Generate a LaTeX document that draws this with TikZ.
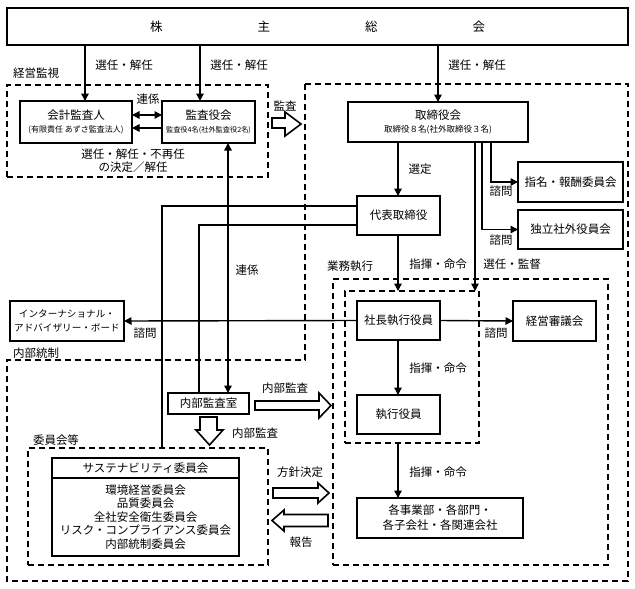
\documentclass[tikz,border=0pt]{standalone}
\usepackage{fontspec}
\setmainfont{Noto Sans CJK JP}
\usetikzlibrary{arrows.meta}
\begin{document}
\begin{tikzpicture}[x=1pt,y=-1pt,
  every node/.style={font=\fontsize{11.5}{13.4}\selectfont},
  box/.style={draw,line width=1.8pt,inner sep=0pt,outer sep=0pt,anchor=north west,align=center},
  dbox/.style={draw,dash pattern=on 6pt off 4pt,line width=1.6pt,inner sep=0pt,outer sep=0pt,anchor=north west},
  dpath/.style={draw,dash pattern=on 6pt off 4pt,line width=1.6pt},
  conn/.style={line width=1.4pt},
  arr/.style={conn,-{Triangle[length=7.5pt,width=7.5pt]}},
  arr2/.style={conn,{Triangle[length=7.5pt,width=7.5pt]}-{Triangle[length=7.5pt,width=7.5pt]}},
  lbl/.style={inner sep=0pt},
  hollow/.style={draw,line width=1.6pt,fill=white,line join=miter}
]
\useasboundingbox (0,0) rectangle (635,589);

% helper coordinates
\coordinate (xa) at (85,0);
\coordinate (xb) at (200,0);
\coordinate (xc) at (438,0);
\coordinate (xk) at (228,0);
\coordinate (x162) at (162,0);
\coordinate (x199) at (199,0);
\coordinate (x398) at (398,0);
\coordinate (x475) at (475,0);
\coordinate (x482) at (482,0);
\coordinate (x491) at (491,0);
\coordinate (y115) at (0,115);
\coordinate (y128) at (0,128);
\coordinate (y206) at (0,206);
\coordinate (y225) at (0,225);
\coordinate (y478) at (0,478);

% dashed regions
\draw[dpath] (305,84) -- (628,84) -- (628,581) -- (7,581) -- (7,360) -- (305,360) -- cycle;
\node[dbox,minimum width=261pt,minimum height=92pt] (kanshi) at (7,85) {};
\node[dbox,minimum width=240pt,minimum height=117pt] (iinkai) at (28,448) {};
\node[dbox,minimum width=275pt,minimum height=286pt] (gyomu) at (333,279) {};
\node[dbox,minimum width=134pt,minimum height=152pt] (inner) at (345,291) {};

% boxes
\node[box,minimum width=621pt,minimum height=37pt,font=\fontsize{12.5}{14}\selectfont] (top) at (7,8)
  {株\hspace{95pt}主\hspace{95pt}総\hspace{95pt}会};
\node[box,minimum width=112pt,minimum height=42pt] (kaikei) at (20,101)
  {会計監査人\\[-1pt]{\fontsize{8}{10}\selectfont (有限責任\ あずさ監査法人)}};
\node[box,minimum width=93pt,minimum height=42pt] (kansa) at (162,101)
  {監査役会\\[-1pt]{\fontsize{7.2}{9}\selectfont 監査役4名(社外監査役2名)}};
\node[box,minimum width=180pt,minimum height=40pt] (tori) at (348,102)
  {取締役会\\[-1pt]{\fontsize{8.5}{10}\selectfont 取締役８名(社外取締役３名)}};
\node[box,minimum width=83pt,minimum height=39pt] (daihyo) at (357,196) {代表取締役};
\node[box,minimum width=105pt,minimum height=40pt] (shimei) at (518,162) {指名・報酬委員会};
\node[box,minimum width=105pt,minimum height=39pt] (dokuritsu) at (518,210) {独立社外役員会};
\node[box,minimum width=83pt,minimum height=39pt] (shacho) at (357,301) {社長執行役員};
\node[box,minimum width=83pt,minimum height=40pt] (keiei) at (513,301) {経営審議会};
\node[box,minimum width=83pt,minimum height=39pt] (shikko) at (357,395) {執行役員};
\node[box,minimum width=166pt,minimum height=40pt,font=\fontsize{11.5}{15}\selectfont] (kaku) at (357,498)
  {各事業部・各部門・\\各子会社・各関連会社};
\node[box,minimum width=114pt,minimum height=40pt,font=\fontsize{9.6}{14.5}\selectfont] (intl) at (10,301)
  {インターナショナル・\\アドバイザリー・ボード};
\node[box,minimum width=81pt,minimum height=21pt] (naibu) at (168,393) {内部監査室};
\node[box,minimum width=187pt,minimum height=98pt] (sus) at (52,458) {};
\draw[line width=1.8pt] (sus.west |- y478) -- (sus.east |- y478);
\node[lbl] (sustitle) at (145.5,468) {サステナビリティ委員会};
\node[lbl,align=center,font=\fontsize{11.5}{13.4}\selectfont] (suslist) at (145.5,517)
  {環境経営委員会\\品質委員会\\全社安全衛生委員会\\リスク・コンプライアンス委員会\\内部統制委員会};

% connectors
\draw[arr] (top.south -| xa) -- (kaikei.north -| xa);
\draw[arr] (top.south -| xb) -- (kansa.north -| xb);
\draw[arr] (top.south -| xc) -- (tori.north -| xc);
\draw[arr2] (kaikei.east |- y115) -- (kansa.west |- y115);
\draw[arr] (kansa.west |- y128) -- (kaikei.east |- y128);
\draw[conn] (daihyo.west |- y206) -| (iinkai.north -| x162);
\draw[conn] (daihyo.west |- y225) -| (naibu.north -| x199);
\draw[arr2] (kansa.south -| xk) -- (naibu.north -| xk);
\draw[arr] (tori.south -| x398) -- (daihyo.north -| x398);
\draw[arr] (tori.south -| x491) |- (shimei.west);
\draw[arr] (tori.south -| x482) |- (dokuritsu.west);
\draw[arr] (tori.south -| x475) -- (inner.north -| x475);
\draw[arr] (daihyo.south -| x398) -- (inner.north -| x398);
\draw[arr] (shacho.west) -- (intl.east);
\draw[arr] (shacho.east) -- (keiei.west);
\draw[arr] (shacho.south -| x398) -- (shikko.north -| x398);
\draw[arr] (inner.south -| x398) -- (kaku.north -| x398);

% hollow arrows
\draw[hollow] (272,118) -- (285,118) -- (285,112) -- (301,124) -- (285,136) -- (285,128) -- (272,128) -- cycle;
\draw[hollow] (255,401) -- (319,401) -- (319,393) -- (331,405.5) -- (319,418) -- (319,410) -- (255,410) -- cycle;
\draw[hollow] (200,417) -- (217,417) -- (217,430) -- (223,430) -- (209.5,445) -- (196,430) -- (200,430) -- cycle;
\draw[hollow] (273,488) -- (318,488) -- (318,483) -- (329,493) -- (318,503) -- (318,498) -- (273,498) -- cycle;
\draw[hollow] (272,520.5) -- (284,510) -- (284,514.5) -- (328,514.5) -- (328,526.5) -- (284,526.5) -- (284,531) -- cycle;

% labels
\node[lbl] (l1) at (124,65) {選任・解任};
\node[lbl] (l2) at (239,65) {選任・解任};
\node[lbl] (l3) at (477,65) {選任・解任};
\node[lbl] (l4) at (36,73) {経営監視};
\node[lbl] (l5) at (148,99) {連係};
\node[lbl,align=center] (l6) at (133,160.5) {選任・解任・不再任\\の決定／解任};
\node[lbl] (l7) at (285,106) {監査};
\node[lbl] (l8) at (420,169) {選定};
\node[lbl] (l9) at (501,191) {諮問};
\node[lbl] (l10) at (501,240) {諮問};
\node[lbl] (l11) at (438,264) {指揮・命令};
\node[lbl] (l12) at (512,264) {選任・監督};
\node[lbl] (l13) at (350,266) {業務執行};
\node[lbl] (l14) at (247,270) {連係};
\node[lbl] (l15) at (145,333) {諮問};
\node[lbl] (l16) at (36,353) {内部統制};
\node[lbl] (l17) at (496,333) {諮問};
\node[lbl] (l18) at (438,368) {指揮・命令};
\node[lbl] (l19) at (285,388) {内部監査};
\node[lbl] (l20) at (255,433) {内部監査};
\node[lbl] (l21) at (56,440) {委員会等};
\node[lbl] (l22) at (300,472) {方針決定};
\node[lbl] (l23) at (301,542) {報告};
\node[lbl] (l24) at (438,472) {指揮・命令};
\end{tikzpicture}
\end{document}
